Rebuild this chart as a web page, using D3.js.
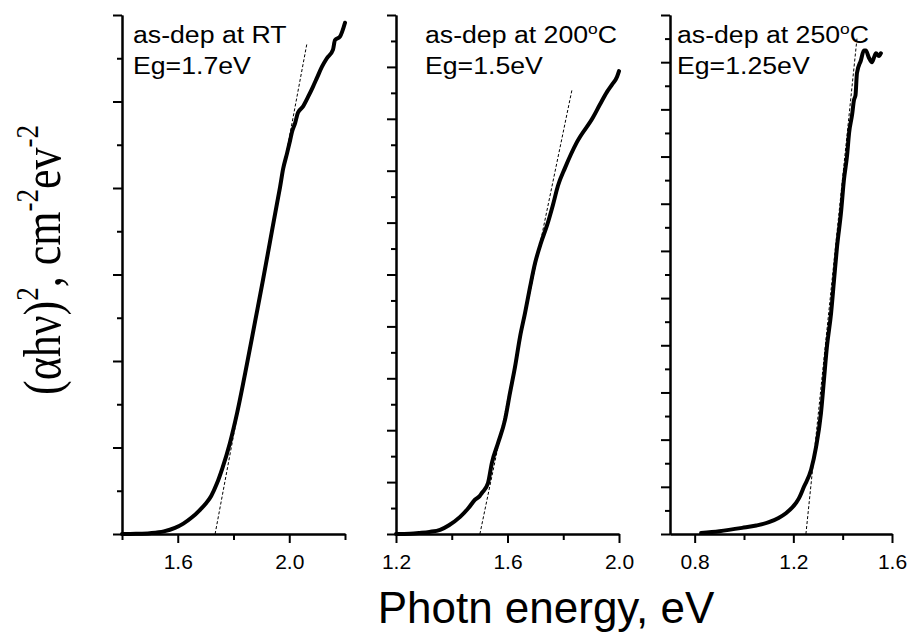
<!DOCTYPE html>
<html>
<head>
<meta charset="utf-8">
<script src="https://cdn.jsdelivr.net/npm/d3@7"></script>
<style>
  html, body { margin: 0; padding: 0; background: #fff; }
  svg { display: block; }
</style>
</head>
<body>
<div id="chart"></div>
<script>
// --- Data (y in arbitrary units, one unit = one major y tick) ---
const rtEnergy = [1.40, 1.45, 1.50, 1.55, 1.59, 1.62, 1.65, 1.68, 1.70, 1.72, 1.74, 1.76, 1.787, 1.813, 1.848, 1.877, 1.906, 1.931, 1.956, 1.967, 1.978, 1.992, 2.003, 2.010, 2.021, 2.031, 2.049, 2.067, 2.085, 2.099, 2.117, 2.135, 2.157, 2.164, 2.182, 2.200];
const rtSignal = [0, 0.003, 0.01, 0.03, 0.07, 0.12, 0.19, 0.28, 0.35, 0.44, 0.58, 0.76, 1.05, 1.40, 1.96, 2.45, 2.94, 3.38, 3.82, 4.01, 4.22, 4.40, 4.55, 4.65, 4.75, 4.87, 4.94, 5.05, 5.17, 5.27, 5.40, 5.50, 5.60, 5.71, 5.75, 5.91];

const t200Energy = [1.20, 1.25, 1.286, 1.32, 1.358, 1.39, 1.430, 1.46, 1.483, 1.500, 1.508, 1.530, 1.544, 1.566, 1.591, 1.609, 1.627, 1.645, 1.663, 1.681, 1.699, 1.720, 1.742, 1.763, 1.781, 1.806, 1.849, 1.907, 1.932, 1.957, 1.975, 1.993, 2.000];
const t200Signal = [0, 0.005, 0.02, 0.04, 0.08, 0.17, 0.33, 0.50, 0.66, 0.73, 0.79, 0.98, 1.37, 1.75, 2.20, 2.72, 3.22, 3.80, 4.26, 4.76, 5.22, 5.61, 5.95, 6.34, 6.71, 7.05, 7.55, 8.03, 8.28, 8.52, 8.66, 8.81, 8.92];

const t250Energy = [0.826, 0.90, 0.992, 1.05, 1.101, 1.14, 1.17, 1.211, 1.223, 1.243, 1.272, 1.292, 1.312, 1.324, 1.336, 1.353, 1.365, 1.377, 1.393, 1.405, 1.418, 1.426, 1.438, 1.446, 1.452, 1.458, 1.474, 1.486, 1.494, 1.506, 1.519, 1.527, 1.535, 1.547, 1.555];
const t250Signal = [0.02, 0.06, 0.13, 0.18, 0.25, 0.34, 0.44, 0.66, 0.76, 1.00, 1.36, 1.84, 2.56, 3.26, 3.96, 4.68, 5.38, 6.08, 6.80, 7.50, 8.03, 8.50, 8.88, 9.20, 9.30, 9.77, 10.04, 10.25, 10.25, 10.10, 10.00, 10.10, 10.19, 10.13, 10.19];

// Tauc extrapolation lines (start at the gap, end at the top of the dashes)
const fitEnergy = [[1.734, 2.064], [1.501, 1.831], [1.251, 1.458]];
const fitSignal = [[0, 5.68], [0, 8.55], [0, 10.5]];

// Labels and axes
const panelTitles = ["as-dep at RT", "as-dep at 200", "as-dep at 250"];
const panelDegree = [false, true, true];
const panelGaps   = ["Eg=1.7eV", "Eg=1.5eV", "Eg=1.25eV"];
const xDomains    = [[1.4, 2.2], [1.2, 2.0], [0.7, 1.6]];
const xMajorTicks = [[1.6, 2.0], [1.2, 1.6, 2.0], [0.8, 1.2, 1.6]];
const xMinorTicks = [[1.4, 1.8, 2.2], [1.4, 1.8], [1.0, 1.4]];
const yMax        = [6, 10, 11];

const curves = [
  { energy: rtEnergy,   signal: rtSignal },
  { energy: t200Energy, signal: t200Signal },
  { energy: t250Energy, signal: t250Signal }
];

// --- Layout ---
const width = 911, height = 635;
const plotTop = 15, plotBottom = 534;
const innerHeight = plotBottom - plotTop;
const panelLeft  = [122, 396, 670];
const panelWidth = [223, 223, 222];
const ink = "#000";
const sans = "'Liberation Sans', Arial, sans-serif";
const serif = "'Liberation Serif', 'Times New Roman', serif";

const svg = d3.select("#chart").append("svg")
  .attr("width", width)
  .attr("height", height)
  .attr("viewBox", `0 0 ${width} ${height}`);

function styleAxis(sel) {
  sel.select(".domain").attr("stroke", ink).attr("stroke-width", 2);
  sel.selectAll(".tick line").attr("stroke", ink).attr("stroke-width", 2);
}

function drawPanel(i) {
  const x = d3.scaleLinear().domain(xDomains[i]).range([0, panelWidth[i]]);
  const y = d3.scaleLinear().domain([0, yMax[i]]).range([innerHeight, 0]);

  const g = svg.append("g")
    .attr("transform", `translate(${panelLeft[i]},${plotTop})`);

  // y axis: no labels, long ticks on whole units, short ones in between
  g.append("g")
    .call(d3.axisLeft(y).tickValues(d3.range(0.5, yMax[i], 1)).tickSize(5).tickSizeOuter(0).tickFormat(""))
    .call(styleAxis);
  g.append("g")
    .call(d3.axisLeft(y).tickValues(d3.range(0, yMax[i] + 0.01, 1)).tickSize(9).tickSizeOuter(0).tickFormat(""))
    .call(styleAxis);

  // x axis
  g.append("g")
    .attr("transform", `translate(0,${innerHeight})`)
    .call(d3.axisBottom(x).tickValues(xMinorTicks[i]).tickSize(6).tickSizeOuter(0).tickFormat(""))
    .call(styleAxis);
  g.append("g")
    .attr("transform", `translate(0,${innerHeight})`)
    .call(d3.axisBottom(x).tickValues(xMajorTicks[i]).tickSize(9).tickSizeOuter(0)
      .tickPadding(11).tickFormat(d3.format(".1f")))
    .call(styleAxis)
    .call(a => a.selectAll("text")
      .attr("fill", ink)
      .style("font-family", sans)
      .style("font-size", "21px"));

  // extrapolation (dashed, thin)
  const fit = d3.zip(fitEnergy[i], fitSignal[i]);
  g.append("path")
    .datum(fit)
    .attr("fill", "none")
    .attr("stroke", ink)
    .attr("stroke-width", 1)
    .attr("stroke-dasharray", "3,2")
    .attr("d", d3.line().x(d => x(d[0])).y(d => y(d[1])));

  // measured curve
  const pts = d3.zip(curves[i].energy, curves[i].signal);
  g.append("path")
    .datum(pts)
    .attr("fill", "none")
    .attr("stroke", ink)
    .attr("stroke-width", 4)
    .attr("stroke-linejoin", "round")
    .attr("stroke-linecap", "round")
    .attr("d", d3.line().curve(d3.curveMonotoneX).x(d => x(d[0])).y(d => y(d[1])));

  // annotation (Origin text is a bit wide, so stretch horizontally)
  const tx = [11, 29, 7][i];
  const note = g.append("g")
    .attr("transform", `translate(${tx},0) scale(1.16,1)`)
    .style("font-family", sans)
    .style("font-size", "23px")
    .attr("fill", ink);
  const t1 = note.append("text").attr("x", 0).attr("y", 28).text(panelTitles[i]);
  if (panelDegree[i]) {
    t1.append("tspan").attr("dy", -9).style("font-size", "15px").text("o");
    t1.append("tspan").attr("dy", 9).text("C");
  }
  note.append("text").attr("x", 0).attr("y", 59).text(panelGaps[i]);
}

[0, 1, 2].forEach(drawPanel);

// --- Axis titles ---
svg.append("text")
  .attr("x", 546)
  .attr("y", 623)
  .attr("text-anchor", "middle")
  .attr("fill", ink)
  .style("font-family", sans)
  .style("font-size", "44px")
  .text("Photn energy, eV");

const yTitle = svg.append("text")
  .attr("transform", "translate(60,260) rotate(-90) scale(1,1.2)")
  .attr("text-anchor", "middle")
  .attr("fill", ink)
  .style("font-family", serif)
  .style("font-size", "44px");
yTitle.append("tspan").text("(\u03B1h\u03BD)");
yTitle.append("tspan").attr("dy", -18).style("font-size", "27px").text("2");
yTitle.append("tspan").attr("dy", 18).text(", cm");
yTitle.append("tspan").attr("dy", -18).style("font-size", "27px").text("-2");
yTitle.append("tspan").attr("dy", 18).text("ev");
yTitle.append("tspan").attr("dy", -18).style("font-size", "27px").text("-2");
</script>
</body>
</html>
